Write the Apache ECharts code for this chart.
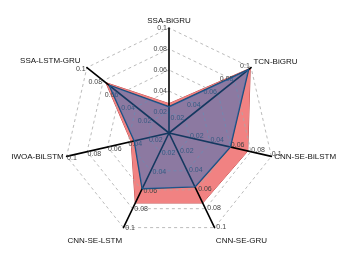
<!DOCTYPE html>
<html><head><meta charset="utf-8">
<script src="https://cdn.jsdelivr.net/npm/echarts@6/dist/echarts.min.js"></script>
<style>html,body{margin:0;padding:0;background:#fff}#c{width:346px;height:259px}</style>
</head><body><div id="c"></div>
<script>
// clockwise from top, as in the reference
var categories = ['SSA-BiGRU','TCN-BiGRU','CNN-SE-BiLSTM','CNN-SE-GRU','CNN-SE-LSTM','IWOA-BiLSTM','SSA-LSTM-GRU'];
var redValues  = [0.028, 0.099, 0.077, 0.074, 0.074, 0.037, 0.077];
var blueValues = [0.025, 0.097, 0.060, 0.057, 0.059, 0.034, 0.073];
var axisMax = 0.1;

// ECharts places indicators counter-clockwise; reorder
function ccw(arr){ var o=[arr[0]]; for(var i=arr.length-1;i>0;i--) o.push(arr[i]); return o; }
var ind = ccw(categories).map(function(n){ return {name:n, min:0, max:axisMax}; });
var nameStyle = {'CNN-SE-GRU':'low','CNN-SE-LSTM':'low','TCN-BiGRU':'up','SSA-LSTM-GRU':'upl'};

var font = 'Liberation Sans, Arial, sans-serif';
var geom = {center:[169,133], radius:105, startAngle:90, shape:'polygon', splitNumber:5};
function rs(p){ return {fontSize:8, fontFamily:font, color:'#111', padding:p}; }

var chart = echarts.init(document.getElementById('c'), null, {renderer:'canvas'});
chart.setOption({
  animation:false,
  textStyle:{fontFamily:font},
  radar:[
    Object.assign({
      z:2,
      indicator: ind,
      axisName:{show:false},
      axisLine:{show:true, lineStyle:{color:'#000', width:1.6}},
      axisTick:{show:false},
      axisLabel:{show:true, fontSize:7, color:'#444', margin:2,
        formatter:function(v){ return v===0 ? '' : String(+v.toFixed(2)); }},
      splitLine:{show:true, lineStyle:{color:'#aaa', type:[3,3], width:0.8}},
      splitArea:{show:false}
    }, geom),
    Object.assign({
      z:4,
      indicator: ind,
      nameGap:3,
      axisName:{show:true, color:'#111', fontSize:8, fontFamily:font,
        formatter:function(n){ var s=nameStyle[n]; return s ? '{'+s+'|'+n+'}' : n; },
        rich:{low:rs([20,0,0,0]), up:rs([0,0,8,0]), upl:rs([0,4,10,0])}},
      axisLine:{show:false}, axisTick:{show:false}, axisLabel:{show:false},
      splitLine:{show:false}, splitArea:{show:false}
    }, geom)
  ],
  series:[
    {type:'radar', radarIndex:0, z:1, symbol:'none',
     lineStyle:{color:'#c04a4a', width:1},
     areaStyle:{color:'rgb(241,130,130)', opacity:1},
     data:[{value: ccw(redValues)}]},
    {type:'radar', radarIndex:0, z:3, symbol:'none',
     lineStyle:{color:'#1d4a72', width:1.4},
     areaStyle:{color:'rgba(40,112,192,0.5)', opacity:1},
     data:[{value: ccw(blueValues)}]}
  ]
});
</script></body></html>
